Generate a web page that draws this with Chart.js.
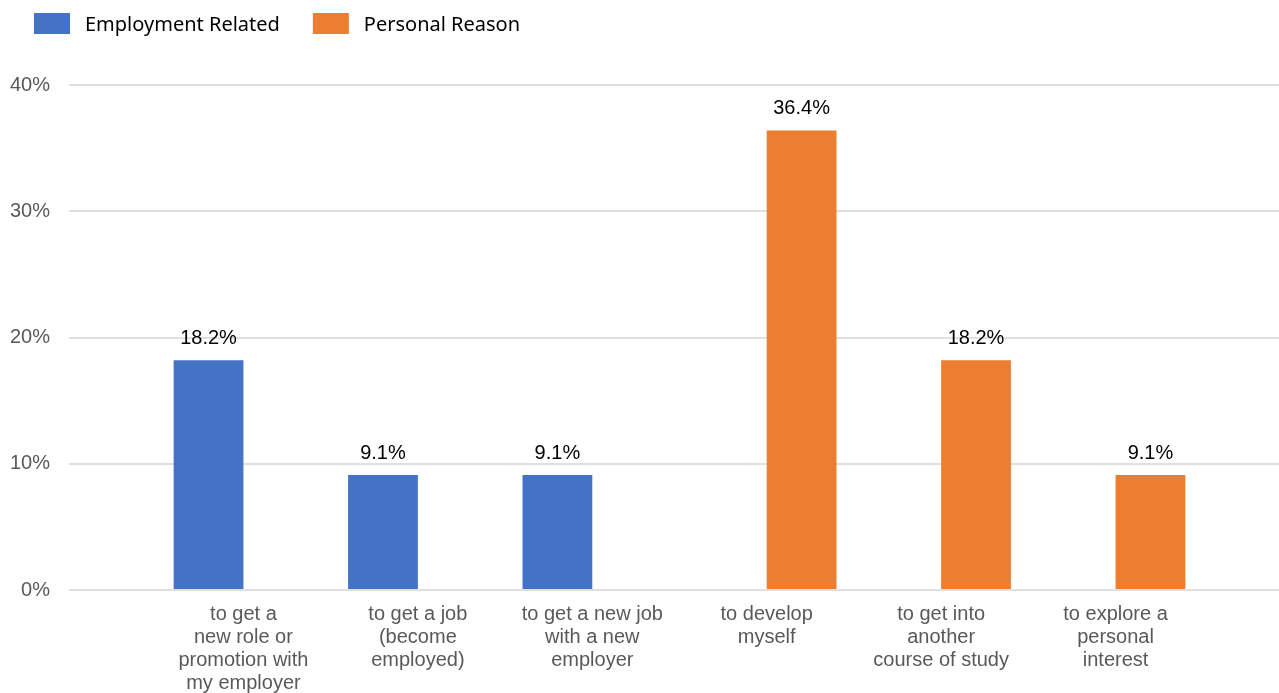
<!DOCTYPE html>
<html>
<head>
<meta charset="utf-8">
<script src="https://cdn.jsdelivr.net/npm/chart.js@4"></script>
<style>
  html, body { margin: 0; padding: 0; background: #fff; overflow: hidden; }
  /* plot runs slightly past the right edge of the window, as in the source */
  #wrap { width: 1290px; height: 693px; }
</style>
</head>
<body>
<div id="wrap"><canvas id="reasonChart"></canvas></div>
<script>
const categories = [
  ['to get a', 'new role or', 'promotion with', 'my employer'],
  ['to get a job', '(become', 'employed)'],
  ['to get a new job', 'with a new', 'employer'],
  ['to develop', 'myself'],
  ['to get into', 'another', 'course of study'],
  ['to explore a', 'personal', 'interest']
];
const employmentRelated = [18.2, 9.1, 9.1, null, null, null];
const personalReason = [null, null, null, 36.4, 18.2, 9.1];
const yTicks = [0, 10, 20, 30, 40];

// empty slot at each end so the bars sit inside the wider plot area
const labels = [''].concat(categories, ['']);
const pad = arr => [null].concat(arr, [null]);

const valueLabels = {
  id: 'valueLabels',
  afterDatasetsDraw(chart) {
    const ctx = chart.ctx;
    ctx.save();
    ctx.font = '20px "Liberation Sans", Arial, sans-serif';
    ctx.fillStyle = '#000';
    ctx.textAlign = 'center';
    ctx.textBaseline = 'middle';
    chart.data.datasets.forEach((ds, i) => {
      chart.getDatasetMeta(i).data.forEach((bar, j) => {
        const v = ds.data[j];
        if (v == null) return;
        ctx.fillText(v.toFixed(1) + '%', bar.x, bar.y - 22);
      });
    });
    ctx.restore();
  }
};

const topLegend = {
  id: 'topLegend',
  afterDraw(chart) {
    const ctx = chart.ctx;
    ctx.save();
    ctx.font = '20px "Noto Sans", "Open Sans", sans-serif';
    ctx.textBaseline = 'middle';
    let x = 34;
    chart.data.datasets.forEach(ds => {
      ctx.fillStyle = ds.backgroundColor;
      ctx.fillRect(x, 13, 36, 21);
      ctx.fillStyle = '#000';
      ctx.fillText(ds.label, x + 51, 25);
      x += 51 + ctx.measureText(ds.label).width + 33;
    });
    ctx.restore();
  }
};

new Chart(document.getElementById('reasonChart'), {
  type: 'bar',
  data: {
    labels: labels,
    datasets: [
      {
        label: 'Employment Related',
        data: pad(employmentRelated),
        backgroundColor: '#4472C4'
      },
      {
        label: 'Personal Reason',
        data: pad(personalReason),
        backgroundColor: '#ED7D31'
      }
    ]
  },
  options: {
    responsive: true,
    maintainAspectRatio: false,
    animation: false,
    categoryPercentage: 0.8,
    barPercentage: 1.0,
    layout: { padding: { top: 85, right: 0, left: 0, bottom: 0 } },
    plugins: {
      legend: { display: false },
      tooltip: { enabled: false }
    },
    scales: {
      x: {
        offset: false,
        afterFit(scale) {
          scale.height = 103;
          scale.paddingLeft = 0;
          scale.paddingRight = 0;
        },
        grid: { display: false, drawTicks: false },
        border: { display: false },
        ticks: {
          autoSkip: false,
          maxRotation: 0,
          padding: 13,
          color: '#595959',
          font: { family: '"Liberation Sans", Arial, sans-serif', size: 20, lineHeight: 1.15 }
        }
      },
      y: {
        min: 0,
        max: 40,
        afterFit(scale) { scale.width = 69; },
        afterBuildTicks(scale) { scale.ticks = yTicks.map(v => ({ value: v })); },
        grid: { color: '#e0e0e0', lineWidth: 2, drawTicks: false },
        border: { display: false },
        ticks: {
          padding: 19,
          color: '#595959',
          font: { family: '"Liberation Sans", Arial, sans-serif', size: 20 },
          callback: v => v + '%'
        }
      }
    }
  },
  plugins: [valueLabels, topLegend]
});
</script>
</body>
</html>
